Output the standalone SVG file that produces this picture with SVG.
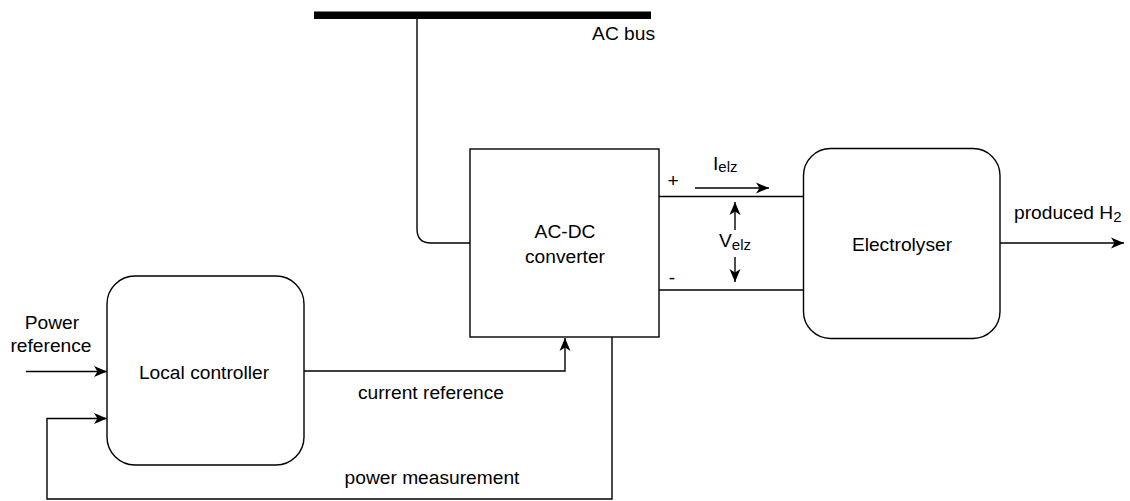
<svg xmlns="http://www.w3.org/2000/svg" width="1130" height="501" viewBox="0 0 1130 501">
<style>
.box{fill:#fff;stroke:#000;stroke-width:1.4}
.ln{fill:none;stroke:#000;stroke-width:1.4}
.arr{fill:none;stroke:#000;stroke-width:1.4;marker-end:url(#ah)}
text{font-family:"Liberation Sans",Arial,sans-serif;font-size:19.2px;fill:#000}
.c{text-anchor:middle}
.sub{font-size:15px}
</style>
<defs>
<marker id="ah" markerWidth="14" markerHeight="12" refX="13" refY="6" orient="auto" markerUnits="userSpaceOnUse">
<path d="M0,0.5 L13,6 L0,11.5 L3.5,6 Z" fill="#000"/>
</marker>
</defs>
<g id="ac-bus">
<rect x="314" y="11.5" width="337" height="7.5" fill="#000"/>
<text x="655" y="39.5" text-anchor="end">AC bus</text>
</g>
<g id="converter">
<rect class="box" x="470" y="149" width="189" height="188"/>
<text class="c" x="565" y="238">AC-DC</text>
<text class="c" x="565" y="262.5">converter</text>
</g>
<g id="electrolyser">
<rect class="box" x="803.5" y="148.5" width="196.5" height="190" rx="27" ry="27"/>
<text class="c" x="902" y="250.5">Electrolyser</text>
</g>
<g id="local-controller">
<rect class="box" x="107" y="276" width="197" height="189" rx="28" ry="28"/>
<text class="c" x="204" y="378.5">Local controller</text>
</g>
<g id="connectors">
<path class="ln" d="M417,19 V229 Q417,243 431,243 H470"/>
<line class="ln" x1="659" y1="196.5" x2="803.5" y2="196.5"/>
<line class="ln" x1="659" y1="290" x2="803.5" y2="290"/>
<line class="arr" x1="695" y1="188" x2="769" y2="188"/>
<line class="arr" x1="735" y1="230" x2="735" y2="202"/>
<line class="arr" x1="735" y1="257" x2="735" y2="282"/>
<line class="arr" x1="1000" y1="243" x2="1124" y2="243"/>
<line class="arr" x1="26" y1="371.5" x2="107" y2="371.5"/>
<path class="arr" d="M304,371 H565 V338"/>
<path class="arr" d="M612,337 V499 H47 V418.5 H107"/>
</g>
<g id="labels">
<text class="c" x="673" y="187">+</text>
<text class="c" x="672" y="284">-</text>
<text x="713" y="170">I<tspan class="sub" dy="2">elz</tspan></text>
<text x="719" y="247">V<tspan class="sub" dy="3">elz</tspan></text>
<text x="1014" y="219">produced H<tspan class="sub" dy="3">2</tspan></text>
<text class="c" x="52" y="329">Power</text>
<text class="c" x="51" y="352">reference</text>
<text class="c" x="431" y="398.5">current reference</text>
<text class="c" x="432" y="484">power measurement</text>
</g>
</svg>
